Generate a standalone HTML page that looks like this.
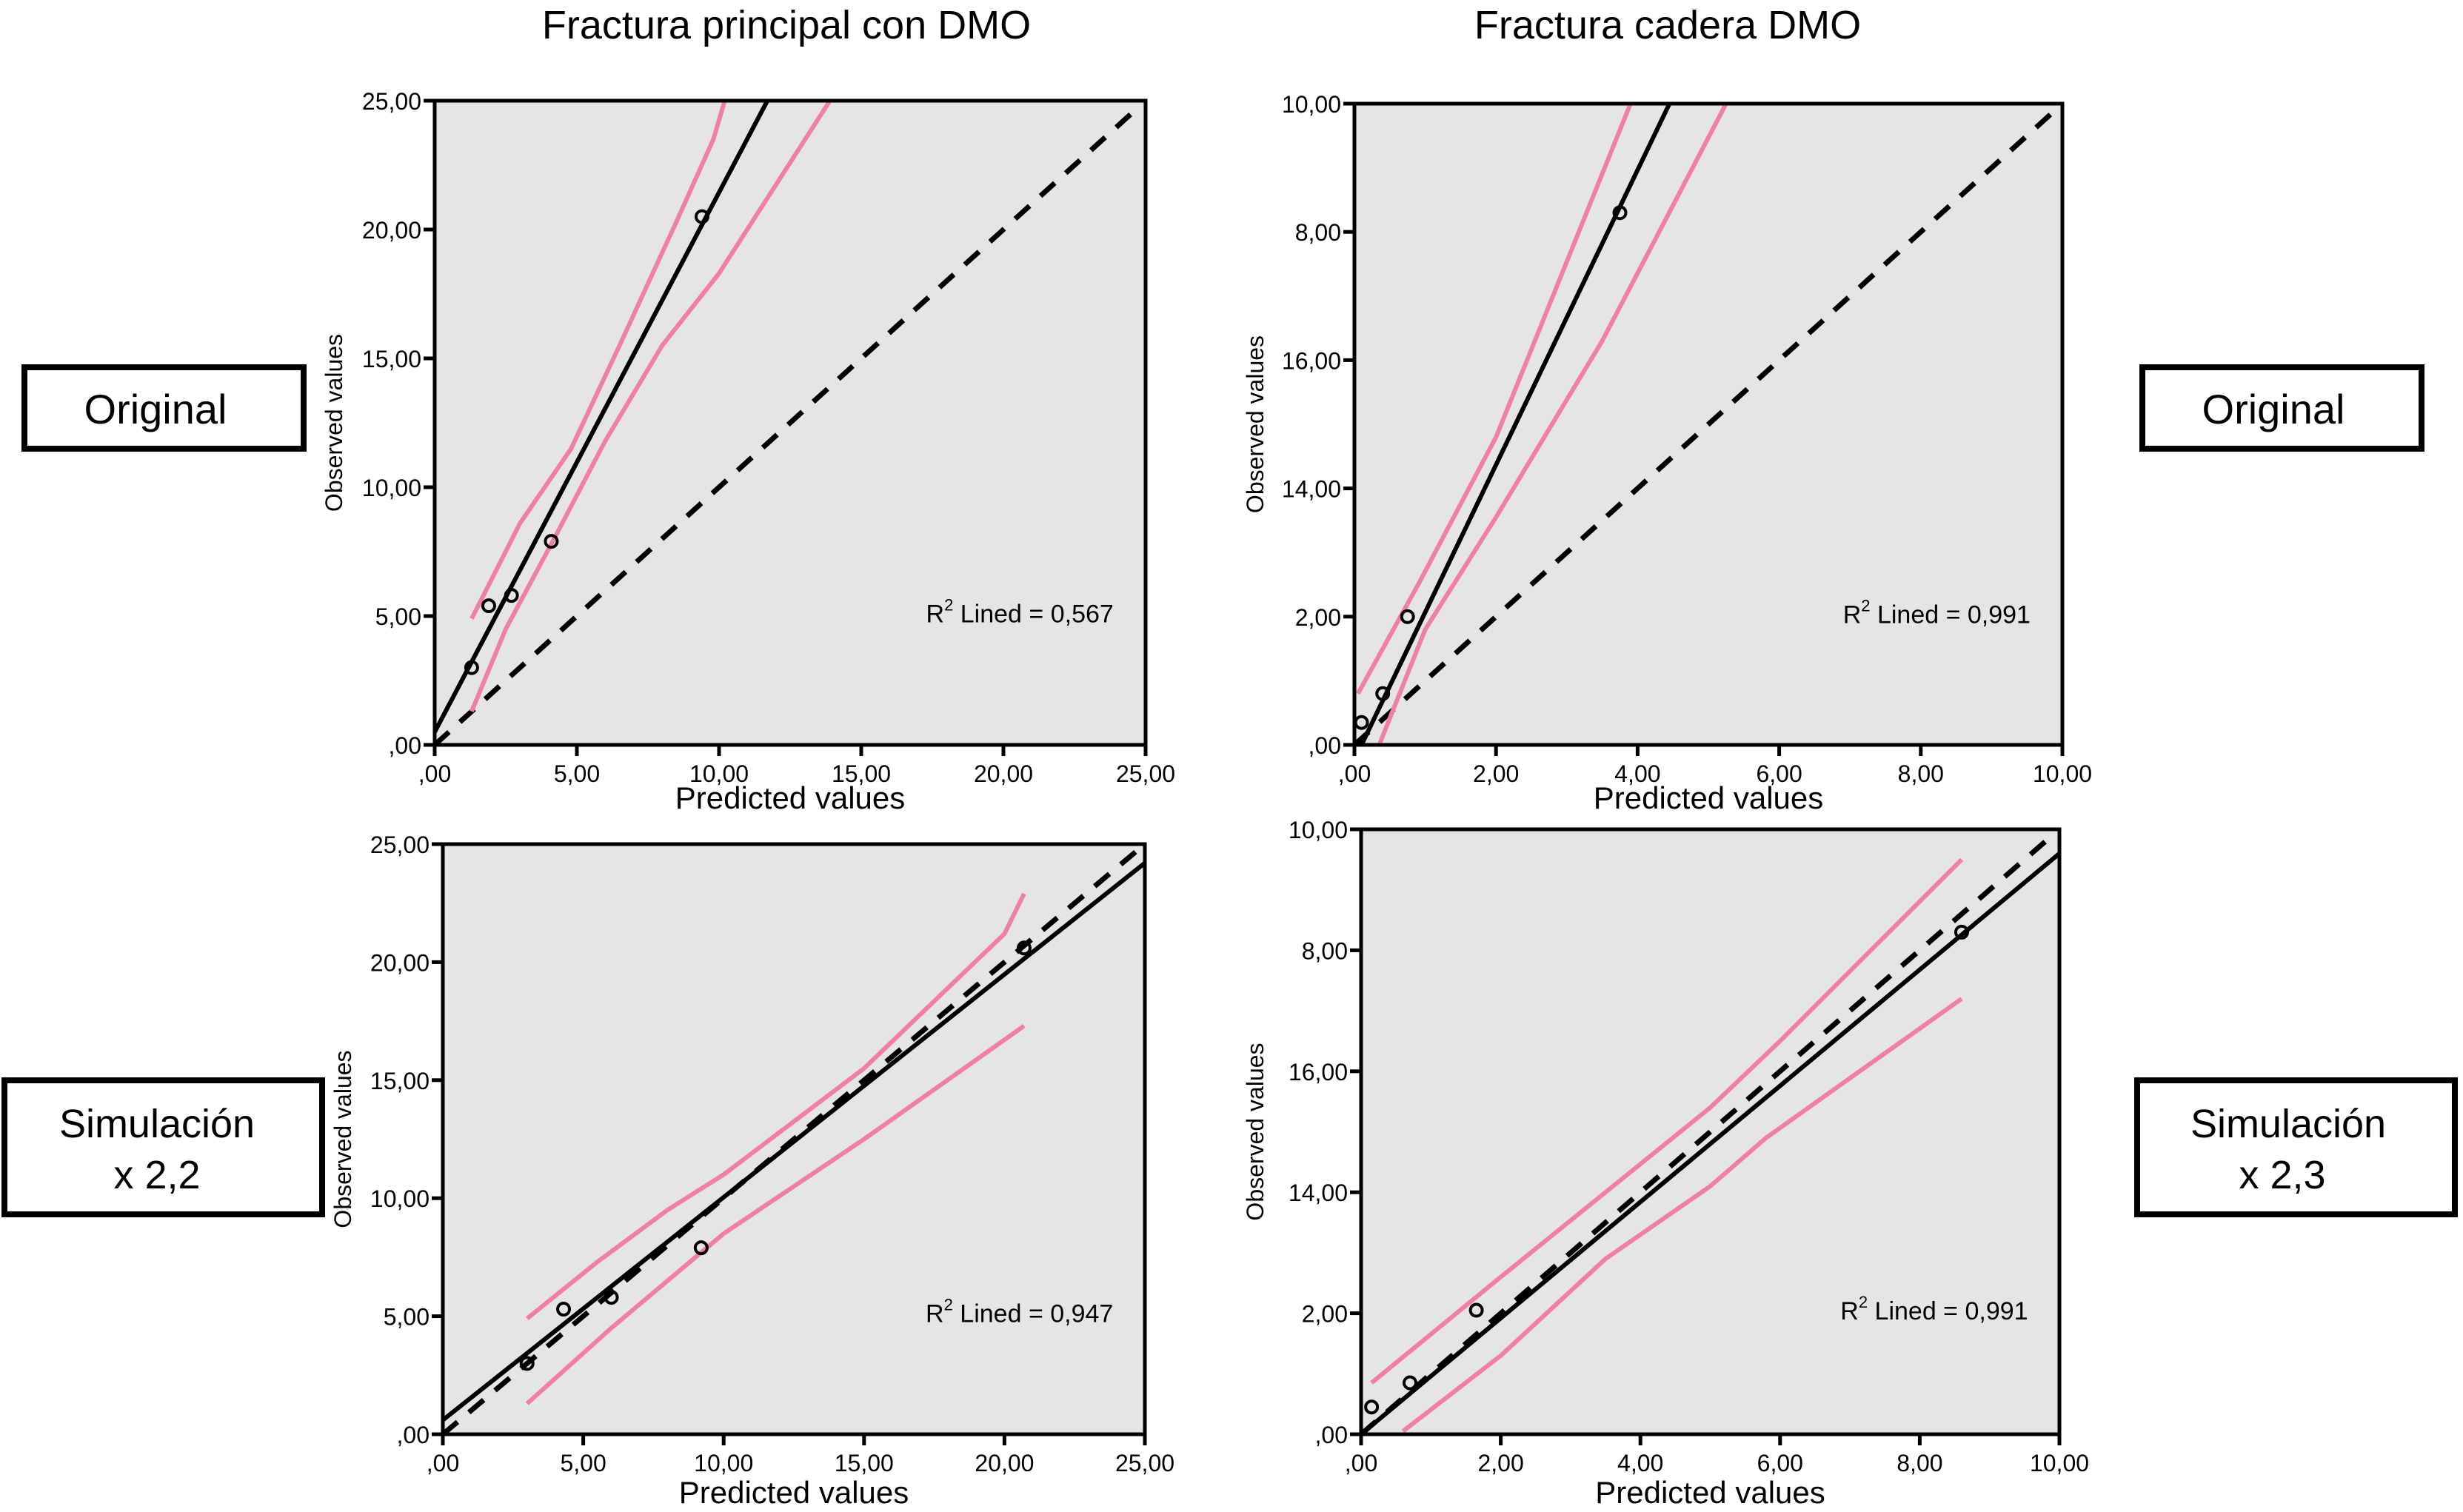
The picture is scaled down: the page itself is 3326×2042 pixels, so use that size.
<!DOCTYPE html>
<html><head><meta charset="utf-8">
<style>
html,body{margin:0;padding:0;background:#fff;}
svg{display:block;font-family:"Liberation Sans Narrow","Liberation Sans",sans-serif;}
</style></head>
<body>
<svg id="fig" width="3326" height="2042" viewBox="0 0 3326 2042" xmlns="http://www.w3.org/2000/svg">
<text x="1062" y="52" font-size="54" text-anchor="middle">Fractura principal con DMO</text>
<text x="2252" y="52" font-size="54" text-anchor="middle">Fractura cadera DMO</text>
<g>
<rect x="33" y="496" width="377" height="110" fill="#fff" stroke="#000" stroke-width="8"/>
<text x="210" y="572" font-size="56" text-anchor="middle">Original</text></g>
<g>
<rect x="2893" y="496" width="377" height="110" fill="#fff" stroke="#000" stroke-width="8"/>
<text x="3070" y="572" font-size="56" text-anchor="middle">Original</text></g>
<g>
<rect x="6" y="1459" width="429" height="181" fill="#fff" stroke="#000" stroke-width="8"/>
<text x="212" y="1536" font-size="54" text-anchor="middle">Simulación</text>
<text x="212" y="1605" font-size="54" text-anchor="middle">x 2,2</text></g>
<g>
<rect x="2886" y="1459" width="429" height="181" fill="#fff" stroke="#000" stroke-width="8"/>
<text x="3090" y="1536" font-size="54" text-anchor="middle">Simulación</text>
<text x="3082" y="1605" font-size="54" text-anchor="middle">x 2,3</text></g>
</svg>
<script>
// Panel A: Fractura principal, original
const aPtsX=[1.3,1.9,2.7,4.1,9.4];
const aPtsY=[3.0,5.4,5.8,7.9,20.5];
const aFitX=[0,11.7];
const aFitY=[0.5,25];
const aUpX=[1.3,3.0,4.8,6.5,8.5,9.8,10.2];
const aUpY=[4.9,8.6,11.5,15.5,20.3,23.5,25];
const aLoX=[1.3,2.5,4.2,6.0,8.0,10.0,13.9];
const aLoY=[1.3,4.5,8.0,11.8,15.5,18.3,25];
const aTicks=[0,5,10,15,20,25];
const aTickLabels=[",00","5,00","10,00","15,00","20,00","25,00"];
const aYTickLabels=[",00","5,00","10,00","15,00","20,00","25,00"];
// Panel B: Fractura cadera, original
const bPtsX=[0.1,0.4,0.75,3.75];
const bPtsY=[0.35,0.8,2.0,8.3];
const bFitX=[0.1,4.45];
const bFitY=[0,10];
const bUpX=[0.05,0.9,2.0,3.9];
const bUpY=[0.8,2.5,4.8,10];
const bLoX=[0.35,1.0,2.0,3.5,5.25];
const bLoY=[0,1.8,3.55,6.3,10];
const bTicks=[0,2,4,6,8,10];
const bTickLabels=[",00","2,00","4,00","6,00","8,00","10,00"];
const bYTickLabels=[",00","2,00","14,00","16,00","8,00","10,00"];
// Panel C: Fractura principal, simulación x2,2
const cPtsX=[3.0,4.3,6.0,9.2,20.7];
const cPtsY=[3.0,5.3,5.8,7.9,20.6];
const cFitX=[0,25];
const cFitY=[0.6,24.2];
const cUpX=[3.0,5.5,8.0,10.0,15.0,20.0,20.7];
const cUpY=[4.9,7.3,9.5,11.0,15.5,21.2,22.9];
const cLoX=[3.0,6.0,8.5,10.0,15.0,20.7];
const cLoY=[1.3,4.5,7.0,8.5,12.5,17.3];
const cTicks=[0,5,10,15,20,25];
const cTickLabels=[",00","5,00","10,00","15,00","20,00","25,00"];
const cYTickLabels=[",00","5,00","10,00","15,00","20,00","25,00"];
// Panel D: Fractura cadera, simulación x2,3
const dPtsX=[0.15,0.7,1.65,8.6];
const dPtsY=[0.45,0.85,2.05,8.3];
const dFitX=[0,10];
const dFitY=[0,9.6];
const dUpX=[0.15,2.0,3.5,5.0,6.0,8.6];
const dUpY=[0.85,2.6,4.0,5.4,6.5,9.5];
const dLoX=[0.6,2.0,3.5,5.0,5.8,8.6];
const dLoY=[0.05,1.3,2.9,4.1,4.9,7.2];
const dTicks=[0,2,4,6,8,10];
const dTickLabels=[",00","2,00","4,00","6,00","8,00","10,00"];
const dYTickLabels=[",00","2,00","14,00","16,00","8,00","10,00"];
const dRefEnd=[9.9];

const NS="http://www.w3.org/2000/svg";
const svg=document.getElementById('fig');
function mk(tag,attrs,parent){const e=document.createElementNS(NS,tag);for(const k in attrs)e.setAttribute(k,attrs[k]);(parent||svg).appendChild(e);return e;}

function panel(id,box,max,ptsX,ptsY,fitX,fitY,upX,upY,loX,loY,ticks,xl,yl,r2,refMax,ylabX,xlabY){
  const g=mk('g',{});
  
  
  const sx=v=>box.x+v/max*box.w;
  const sy=v=>box.y+box.h-v/max*box.h;
  const bg=mk('rect',{x:box.x,y:box.y,width:box.w,height:box.h,fill:'#e5e5e5'},g);
  
  
  const ref=mk('line',{x1:sx(0),y1:sy(0),x2:sx(refMax),y2:sy(refMax),stroke:'#000','stroke-width':7,'stroke-dasharray':'26 20'},g);
  
  
  const band=(X,Y,n)=>{const p=mk('polyline',{points:X.map((v,i)=>sx(v)+','+sy(Y[i])).join(' '),fill:'none',stroke:'#f07fa6','stroke-width':6,'stroke-linejoin':'round'},g);
    
    };
  band(upX,upY,'ci-upper');
  band(loX,loY,'ci-lower');
  const fit=mk('polyline',{points:fitX.map((v,i)=>sx(v)+','+sy(fitY[i])).join(' '),fill:'none',stroke:'#000','stroke-width':6},g);
  
  
  ptsX.forEach((v,i)=>{const c=mk('circle',{cx:sx(v),cy:sy(ptsY[i]),r:8,fill:'none',stroke:'#000','stroke-width':4},g);
    
    });
  const fr=mk('rect',{x:box.x,y:box.y,width:box.w,height:box.h,fill:'none',stroke:'#000','stroke-width':5},g);
  
  
  ticks.forEach((t,i)=>{
    mk('line',{x1:sx(t),y1:box.y+box.h,x2:sx(t),y2:box.y+box.h+15,stroke:'#000','stroke-width':5},g);
    const tx=mk('text',{x:sx(t),y:box.y+box.h+50,'font-size':32,'text-anchor':'middle'},g);tx.textContent=xl[i];
    
    
    mk('line',{x1:box.x-15,y1:sy(t),x2:box.x,y2:sy(t),stroke:'#000','stroke-width':5},g);
    const ty=mk('text',{x:box.x-18,y:sy(t)+12,'font-size':32,'text-anchor':'end'},g);ty.textContent=yl[i];
    
    
  });
  const xt=mk('text',{x:box.x+box.w/2,y:xlabY,'font-size':42,'text-anchor':'middle'},g);xt.textContent='Predicted values';
  
  
  const yt=mk('text',{x:0,y:0,'font-size':32,'text-anchor':'middle',transform:`translate(${ylabX},${box.y+box.h/2}) rotate(-90)`},g);yt.textContent='Observed values';
  
  
  const rt=mk('text',{x:box.x+box.w*0.955,y:sy(max*0.19),'font-size':34,'text-anchor':'end'},g);
  rt.innerHTML='R<tspan dy="-16" font-size="22">2</tspan><tspan dy="16"> Lined = '+r2+'</tspan>';
  
  
}
panel('a',{x:587,y:136,w:960,h:870},25,aPtsX,aPtsY,aFitX,aFitY,aUpX,aUpY,aLoX,aLoY,aTicks,aTickLabels,aYTickLabels,'0,567',24.8,462,1092);
panel('b',{x:1829,y:140,w:956,h:866},10,bPtsX,bPtsY,bFitX,bFitY,bUpX,bUpY,bLoX,bLoY,bTicks,bTickLabels,bYTickLabels,'0,991',10,1706,1092);
panel('c',{x:598,y:1140,w:948,h:797},25,cPtsX,cPtsY,cFitX,cFitY,cUpX,cUpY,cLoX,cLoY,cTicks,cTickLabels,cYTickLabels,'0,947',25,474,2030);
panel('d',{x:1838,y:1120,w:943,h:817},10,dPtsX,dPtsY,dFitX,dFitY,dUpX,dUpY,dLoX,dLoY,dTicks,dTickLabels,dYTickLabels,'0,991',dRefEnd[0],1706,2030);
</script>
</body></html>
